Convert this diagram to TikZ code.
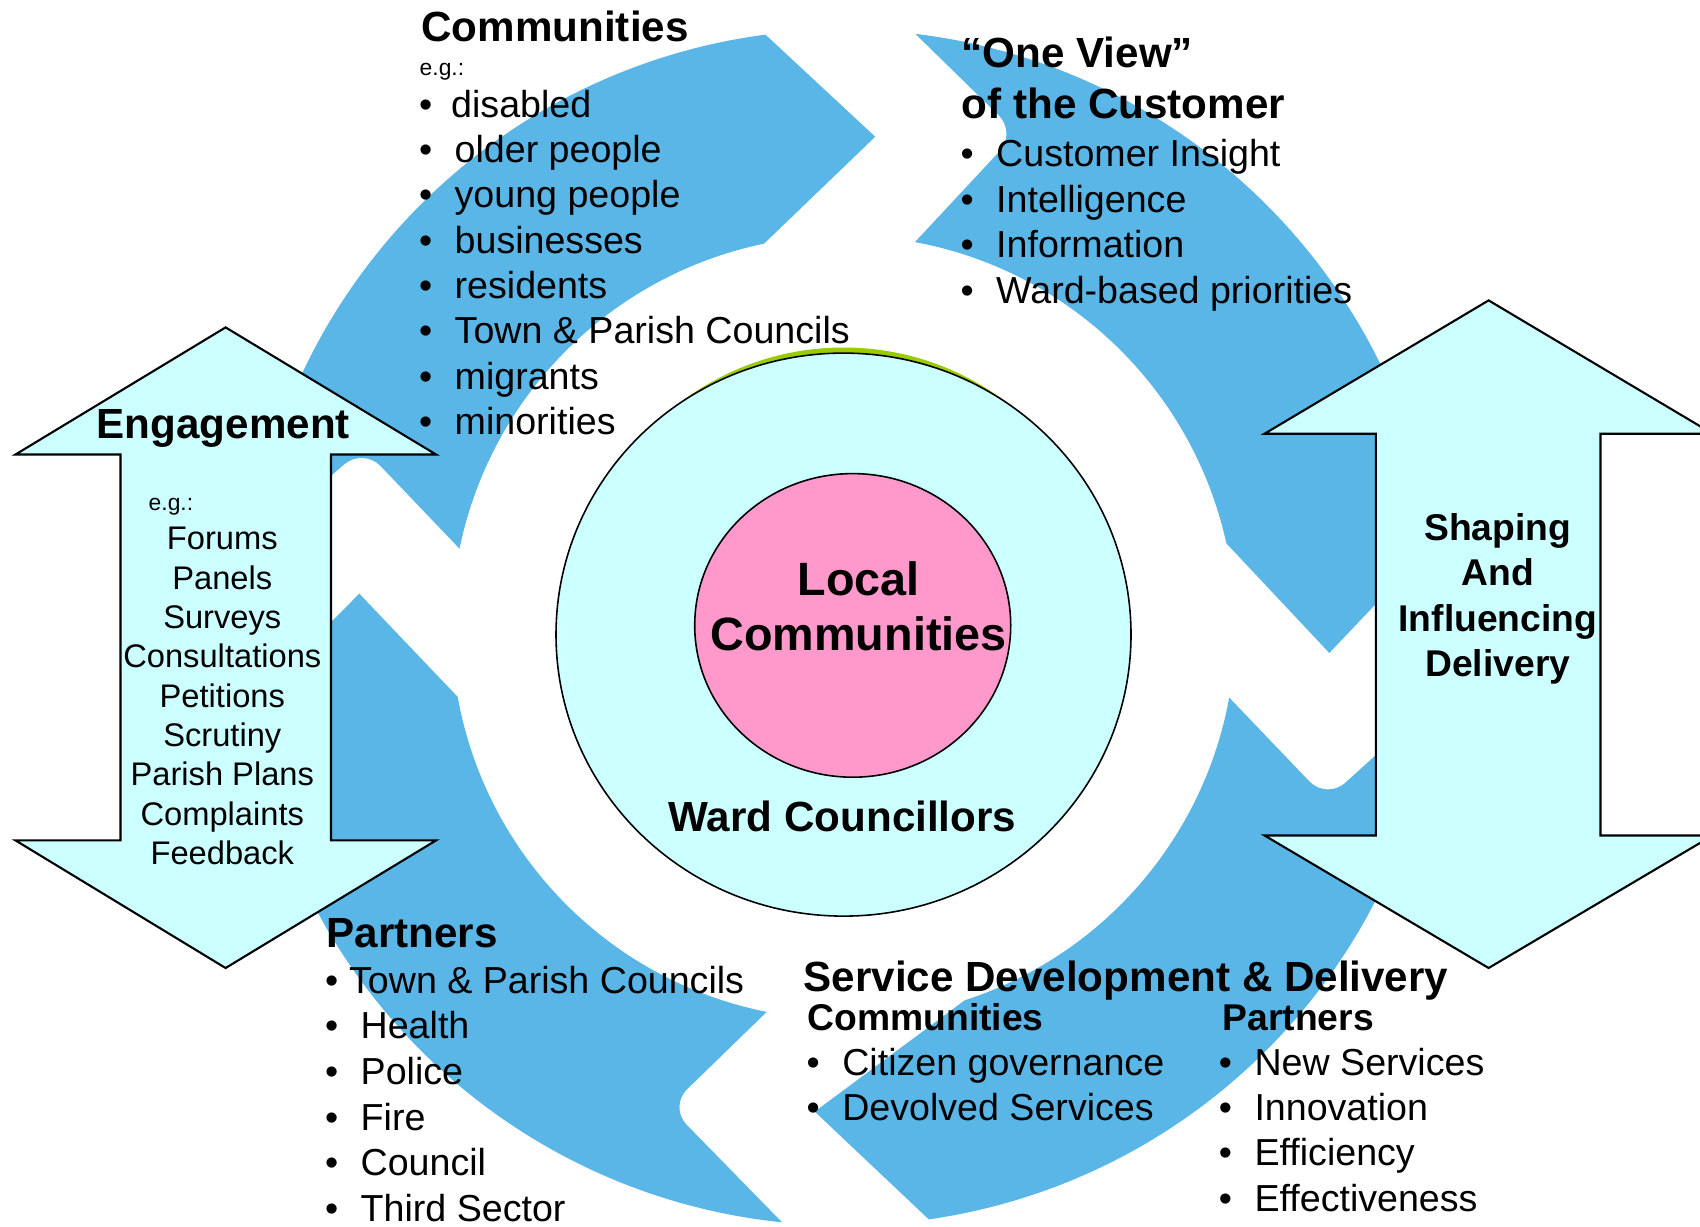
\documentclass[tikz,border=0pt]{standalone}
\usepackage{fontspec}
\setmainfont{Liberation Sans}
\usetikzlibrary{shapes.geometric}
\definecolor{cycleblue}{RGB}{89,182,230}
\definecolor{palecyan}{RGB}{204,255,255}
\definecolor{corepink}{RGB}{255,153,204}
\definecolor{rimgreen}{RGB}{153,204,0}
\tikzstyle{cyclearrow} = [fill=cycleblue]
\tikzstyle{bigarrow} = [fill=palecyan, draw=black, line width=0.6pt]
\tikzstyle{disc} = [ellipse, draw=black, line width=0.45pt, inner sep=0pt]
\tikzstyle{heading} = [anchor=base west, inner sep=0pt, align=left, font=\fontsize{12}{14.45}\selectfont\bfseries]
\tikzstyle{subheading} = [anchor=base west, inner sep=0pt, font=\fontsize{10.6}{12.9}\selectfont\bfseries]
\tikzstyle{bullets} = [anchor=base west, inner sep=0pt, align=left, font=\fontsize{10.7}{12.9}\selectfont]
\tikzstyle{eg} = [anchor=base west, inner sep=0pt, font=\fontsize{6.5}{8}\selectfont]
\tikzstyle{centred} = [anchor=base, inner sep=0pt, align=center]
\newcommand{\bul}{\makebox[3.56mm][l]{\textbullet}}

\begin{document}
\begin{tikzpicture}[x=0.1mm, y=-0.1mm]
\useasboundingbox (0,0) rectangle (1700,1226);
\clip (0,0) rectangle (1700,1226);

\begin{scope}[shift={(843.5,627.5)}]
\fill[cyclearrow] (-172:598) arc[start angle=-172, end angle=-97.5, radius=598] -- (-86.3:491.8) -- (-101.7:392) arc[start angle=-101.7, end angle=-168.4, radius=392] [rounded corners=2.5mm] -- (-159.5:512.7) [sharp corners] -- cycle;
\fill[cyclearrow] (-83.1:598) arc[start angle=-83.1, end angle=-8.3, radius=598] -- (3.0:486.5) -- (-12.4:392) arc[start angle=-12.4, end angle=-79.5, radius=392] [rounded corners=2.5mm] -- (-70.7:524) [sharp corners] -- cycle;
\fill[cyclearrow] (6.9:598) arc[start angle=6.9, end angle=81.8, radius=598] -- (93.4:485) -- (72:392) arc[start angle=72, end angle=10.3, radius=392] [rounded corners=2.5mm] -- (19.6:513) [sharp corners] -- cycle;
\fill[cyclearrow] (95.9:598) arc[start angle=95.9, end angle=172.7, radius=598] -- (184:485.4) -- (169.8:392) arc[start angle=169.8, end angle=101.3, radius=392] [rounded corners=2.5mm] -- (110:510) [sharp corners] -- cycle;
\end{scope}

\fill[rimgreen] (843.5,629) ellipse [x radius=27.5mm, y radius=28.15mm];
\node[disc, fill=palecyan, minimum width=57.5mm, minimum height=56.3mm] (ward) at (843.5,634.6) {};
\node[disc, fill=corepink, minimum width=31.6mm, minimum height=30.36mm] (core) at (852.7,625.4) {};

\draw[bigarrow] (225.6,327.4) -- (436,454.5) -- (331,454.5) -- (331,840.4) -- (436,840.4) -- (225.6,968) -- (15.5,840.4) -- (120.5,840.4) -- (120.5,454.5) -- (15.5,454.5) -- cycle;
\draw[bigarrow] (1488.6,300.4) -- (1712.6,433.7) -- (1600.5,433.7) -- (1600.5,835.5) -- (1712.6,835.5) -- (1488.6,968) -- (1264.6,835.5) -- (1375.8,835.5) -- (1375.8,433.7) -- (1264.6,433.7) -- cycle;

\node[heading] (comm) at (420.8,42) {Communities};
\node[eg] (commeg) at (419,75.5) {e.g.:};
\node[bullets] (commlist) at (418.4,434.5) {\makebox[3.21mm][l]{\textbullet}disabled\\\bul older people\\\bul young people\\\bul businesses\\\bul residents\\\bul Town \& Parish Councils\\\bul migrants\\\bul minorities};

\node[heading] (view) at (961,118.5) {“One View”\\of the Customer};
\node[bullets] (viewlist) at (959.9,303) {\bul Customer Insight\\\bul Intelligence\\\bul Information\\\bul Ward-based priorities};

\node[heading] (partners) at (326,947.5) {Partners};
\node[bullets, font=\fontsize{10.7}{13}\selectfont] (partlist) at (324.4,1221.5) {\makebox[2.4mm][l]{\textbullet}Town \& Parish Councils\\\bul Health\\\bul Police\\\bul Fire\\\bul Council\\\bul Third Sector};

\node[heading] (service) at (803,991) {Service Development \& Delivery};
\node[subheading] (servcomm) at (807,1030) {Communities};
\node[subheading] (servpart) at (1222,1030) {Partners};
\node[bullets] (servcommlist) at (806,1120.7) {\bul Citizen governance\\\bul Devolved Services};
\node[bullets] (servpartlist) at (1218.2,1211.3) {\bul New Services\\\bul Innovation\\\bul Efficiency\\\bul Effectiveness};

\node[heading, anchor=base] (engage) at (223.3,438.5) {Engagement};
\node[eg] (engeg) at (148,510.5) {e.g.:};
\node[centred, font=\fontsize{9.3}{11.2}\selectfont] (englist) at (222.3,864.7) {Forums\\Panels\\Surveys\\Consultations\\Petitions\\Scrutiny\\Parish Plans\\Complaints\\Feedback};

\node[centred, font=\fontsize{13.3}{15.65}\selectfont\bfseries] (local) at (858.5,650.5) {Local\\Communities};
\node[centred, font=\fontsize{12}{14}\selectfont\bfseries] (councillors) at (842.5,831.5) {Ward Councillors};
\node[centred, font=\fontsize{10.6}{12.9}\selectfont\bfseries] (shaping) at (1497.8,676.5) {Shaping\\And\\Influencing\\Delivery};

\end{tikzpicture}
\end{document}
